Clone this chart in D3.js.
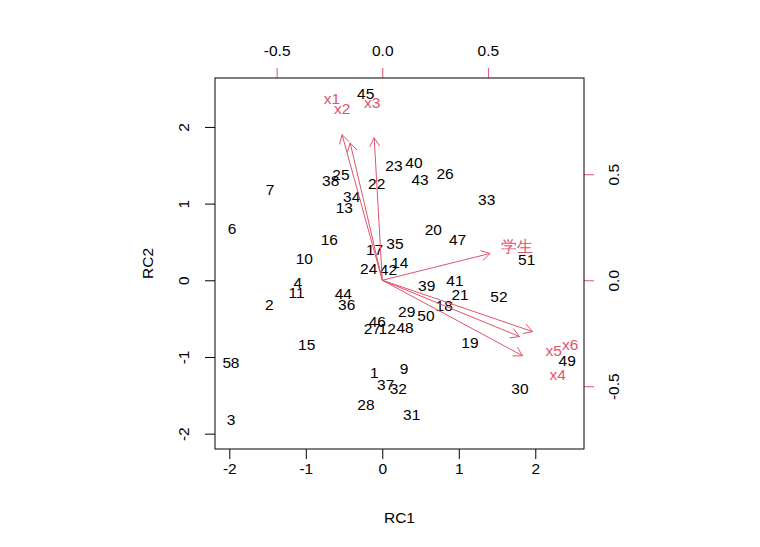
<!DOCTYPE html>
<html>
<head>
<meta charset="utf-8">
<script src="https://cdn.jsdelivr.net/npm/d3@7"></script>
<style>
body { margin: 0; background: #fff; }
text { font-family: "Liberation Sans", Arial, sans-serif; font-size: 15.5px; }
</style>
</head>
<body>
<svg width="760" height="547"></svg>
<script>
// observation labels and rotated component scores
var obsLabels = ["1","2","3","4","5","6","7","8","9","10","11","12","13","14","15","16","17","18","19","20",
  "21","22","23","24","25","26","27","28","29","30","31","32","33","34","35","36","37","38","39","40",
  "41","42","43","44","45","46","47","48","49","50","51","52"];
var rc1 = [-0.105,-1.477,-1.978,-1.106,-2.034,-1.965,-1.468,-1.925,0.284,-1.020,
  -1.120,0.064,-0.497,0.230,-0.988,-0.693,-0.100,0.810,1.146,0.667,
  1.016,-0.073,0.153,-0.178,-0.540,0.820,-0.130,-0.213,0.319,1.800,
  0.384,0.209,1.365,-0.400,0.166,-0.465,0.044,-0.675,0.580,0.414,
  0.950,0.080,0.493,-0.510,-0.217,-0.065,0.985,0.297,2.418,0.571,
  1.888,1.525];
var rc2 = [-1.200,-0.313,-1.821,-0.026,-1.069,0.678,1.186,-1.069,-1.156,0.278,
  -0.160,-0.635,0.952,0.230,-0.844,0.525,0.404,-0.335,-0.808,0.665,
  -0.183,1.265,1.490,0.156,1.382,1.386,-0.635,-1.626,-0.409,-1.417,
  -1.747,-1.408,1.056,1.090,0.482,-0.313,-1.365,1.304,-0.074,1.538,
  -0.009,0.134,1.308,-0.170,2.430,-0.540,0.535,-0.613,-1.048,-0.462,
  0.265,-0.214];

// variable loadings
var varLabels = ["x1","x2","x3","学生","x4","x5","x6"];
var load1 = [-0.238,-0.19,-0.048,0.638,0.830,0.812,0.890];
var load2 = [0.858,0.810,0.840,0.158,-0.445,-0.332,-0.303];

var mainTicks = [-2,-1,0,1,2];
var loadTicks = [-0.5,0,0.5];

var red = "#DF536B";
var svg = d3.select("svg");
var L = 215, R = 584, T = 78, B = 449;

var x = d3.scaleLinear().domain([-2.187, 2.637]).range([L, R]);
var y = d3.scaleLinear().domain([-2.2, 2.638]).range([B, T]);
var x2 = d3.scaleLinear().domain([-0.792, 0.955]).range([L, R]);
var y2 = d3.scaleLinear().domain([-0.796, 0.954]).range([B, T]);

function fmt(d) { return String(d); }
function fmt1(d) { return d.toFixed(1); }

// bottom axis
var gb = svg.append("g").attr("transform", "translate(0," + B + ")")
  .call(d3.axisBottom(x).tickValues(mainTicks).tickSize(10).tickFormat(fmt));
gb.select(".domain").remove();
gb.selectAll("text").attr("y", 19.7).attr("dy", "0.35em").attr("font-size", null).attr("font-family", null);

// top axis
var gt = svg.append("g").attr("transform", "translate(0," + T + ")")
  .call(d3.axisTop(x2).tickValues(loadTicks).tickSize(10).tickFormat(fmt1));
gt.select(".domain").remove();
gt.selectAll("line").attr("stroke", red);
gt.selectAll("text").attr("y", -27.3).attr("dy", "0.35em").attr("fill", "#000").attr("font-size", null).attr("font-family", null);

// left axis
var gl = svg.append("g").attr("transform", "translate(" + L + ",0)")
  .call(d3.axisLeft(y).tickValues(mainTicks).tickSize(10).tickFormat(fmt));
gl.select(".domain").remove();
gl.selectAll("text").attr("x", null).attr("dy", "0.35em").attr("text-anchor", "middle")
  .attr("transform", "translate(-31,0) rotate(-90)").attr("font-size", null).attr("font-family", null);

// right axis
var gr = svg.append("g").attr("transform", "translate(" + R + ",0)")
  .call(d3.axisRight(y2).tickValues(loadTicks).tickSize(10).tickFormat(fmt1));
gr.select(".domain").remove();
gr.selectAll("line").attr("stroke", red);
gr.selectAll("text").attr("x", null).attr("dy", "0.35em").attr("text-anchor", "middle").attr("fill", "#000")
  .attr("transform", "translate(29.3,0) rotate(-90)").attr("font-size", null).attr("font-family", null);

// box
svg.append("rect").attr("x", L).attr("y", T).attr("width", R - L).attr("height", B - T)
  .attr("fill", "none").attr("stroke", "#000").attr("stroke-width", 1);

// axis titles
svg.append("text").attr("x", (L + R) / 2).attr("y", 517.5).attr("dy", "0.35em")
  .attr("text-anchor", "middle").text("RC1");
svg.append("text").attr("transform", "translate(147.5," + (T + B) / 2 + ") rotate(-90)")
  .attr("dy", "0.35em").attr("text-anchor", "middle").text("RC2");

// observation labels
svg.append("g").selectAll("text").data(obsLabels).enter().append("text")
  .attr("x", function(d, i) { return x(rc1[i]); })
  .attr("y", function(d, i) { return y(rc2[i]); })
  .attr("dy", "0.35em").attr("text-anchor", "middle").attr("fill", "#000")
  .text(function(d) { return d; });

// arrows at 0.8 * loadings, labels at the loadings
var ga = svg.append("g").attr("stroke", red).attr("fill", "none").attr("stroke-width", 1);
var headLen = 10, headAng = Math.PI / 6;
varLabels.forEach(function(v, i) {
  var x0 = x2(0), y0 = y2(0);
  var x1 = x2(load1[i] * 0.8), y1 = y2(load2[i] * 0.8);
  var a = Math.atan2(y1 - y0, x1 - x0);
  ga.append("line").attr("x1", x0).attr("y1", y0).attr("x2", x1).attr("y2", y1);
  var p = d3.path();
  p.moveTo(x1 - headLen * Math.cos(a - headAng), y1 - headLen * Math.sin(a - headAng));
  p.lineTo(x1, y1);
  p.lineTo(x1 - headLen * Math.cos(a + headAng), y1 - headLen * Math.sin(a + headAng));
  ga.append("path").attr("d", p.toString());
});

svg.append("g").selectAll("text").data(varLabels).enter().append("text")
  .attr("x", function(d, i) { return x2(load1[i]); })
  .attr("y", function(d, i) { return y2(load2[i]); })
  .attr("dy", "0.35em").attr("text-anchor", "middle").attr("fill", red)
  .text(function(d) { return d; });
</script>
</body>
</html>
